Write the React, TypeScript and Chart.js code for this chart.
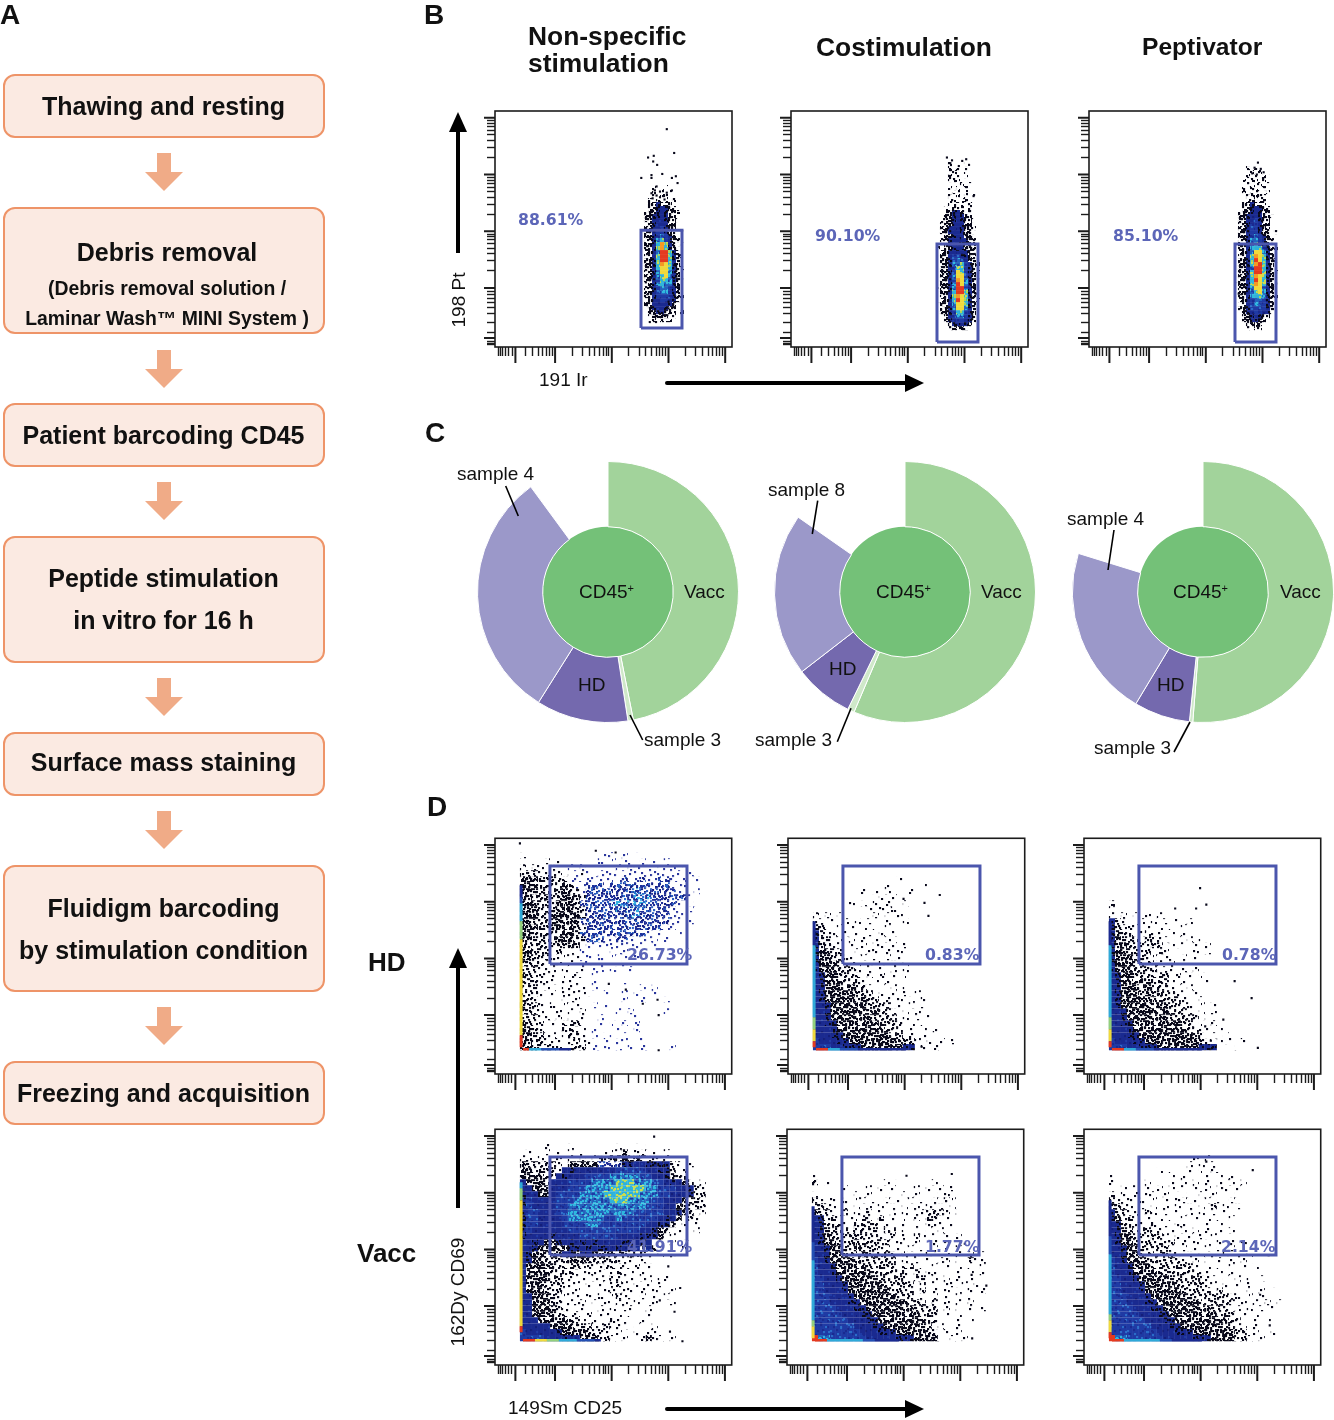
import React, { useEffect, useRef } from "react";
import { Chart, registerables } from "chart.js";
Chart.register(...registerables);

// ---------- workflow text ----------
const flowSteps = [
  { lines: [{ t: "Thawing and resting", y: 106, x: 163.5 }], top: 74, bottom: 138 },
  { lines: [{ t: "Debris removal", y: 252, x: 167 }, { t: "(Debris removal solution /", y: 289, x: 167, small: true }, { t: "Laminar Wash™ MINI System )", y: 319, x: 167, small: true }], top: 207, bottom: 334 },
  { lines: [{ t: "Patient barcoding CD45", y: 435, x: 163.5 }], top: 403, bottom: 467 },
  { lines: [{ t: "Peptide stimulation", y: 578, x: 163.5 }, { t: "in vitro for 16 h", y: 620, x: 163.5 }], top: 536, bottom: 663 },
  { lines: [{ t: "Surface mass staining", y: 762, x: 163.5 }], top: 732, bottom: 796 },
  { lines: [{ t: "Fluidigm barcoding", y: 908, x: 163.5 }, { t: "by stimulation condition", y: 950, x: 163.5 }], top: 865, bottom: 992 },
  { lines: [{ t: "Freezing and acquisition", y: 1093, x: 163.5 }], top: 1061, bottom: 1125 },
];
const flowArrowTops = [153, 350, 482, 678, 811, 1007];

// ---------- axis ticks (decades of the cytometry biaxial scale) ----------
const axisMajorX = [-0.7, 0, 1, 2, 3];
const axisMinorX = [-1.0, -0.97, -0.93, -0.88, -0.82, -0.76, -0.52, -0.4, -0.3, -0.22, -0.15, -0.1, -0.05, 0.3, 0.48, 0.6, 0.7, 0.78, 0.85, 0.9, 0.95, 1.3, 1.48, 1.6, 1.7, 1.78, 1.85, 1.9, 1.95, 2.3, 2.48, 2.6, 2.7, 2.78, 2.85, 2.9, 2.95];
const axisMajorY = [-0.88, 0, 1, 2, 3];
const axisMinorY = [-1.0, -0.97, -0.94, -0.78, -0.6, -0.45, -0.35, -0.25, -0.18, -0.12, -0.06, 0.3, 0.48, 0.6, 0.7, 0.78, 0.85, 0.9, 0.95, 1.3, 1.48, 1.6, 1.7, 1.78, 1.85, 1.9, 1.95, 2.3, 2.48, 2.6, 2.7, 2.78, 2.85, 2.9, 2.95];

// ---------- gates ----------
const gateNonspecB = { x: [1.515, 2.238], y: [-0.707, 1.02] };
const gateOtherB = { x: [1.515, 2.238], y: [-0.954, 0.774] };
const gateD = { x: [-0.09, 2.33], y: [0.9, 2.63] };

// ---------- density readings, top row first; "." none, 1-3 black dots, a,b,c blue dots, k navy+black, 4-9 colour scale ----------
const purityNonspec = [
  "", "", "", "", "", "", "", "", "....1.1....", "...2.1.....",
  "...2.2.1...", "...2.22....", "..2.222.2..", "..33k333...", "..33k4k32..", ".233k4k332.", ".33kk4k33..", ".33k44k332.", "..3k44k33..", ".33k45k33..",
  ".33k55k32.2", ".33k565k3..", ".23k675k32.", ".33k7o7k3.2", ".33k7o7k32.", ".33k6997k3.", ".23k7997k32", ".33k7997k3.", ".33k7o87k3.", ".33k7887k32",
  ".23k6886k3.", ".33k6786k3.", ".33k6776k32", "..3k6766k3.", ".33k5665k3.", ".23k5665k3.", ".33k5555k32", "..3k4554k3.", ".33k444k3..", "..3k44k33..",
  "..33kk332.2", "..23333.2..", "...2.322...",
];
const purityCostim = [
  "", "", "", "...2.1.2...", "...2.2.1...", "...222.2...", "...3.2.1...", "...222.....", "....2.2.1..", "...2.2.2...",
  "....22.2...", "...2.2.2.1.", "...22.22.1.", "...2222.2..", "..2.222.2..", "..23kk322..", "..33k4k33..", ".233k4k332.", ".233k4k33..", ".33k44k332.",
  ".23kk4k33..", "..33k4k332.", ".33k44kk32.", "..3k4kk332.", "2.33k4k333.", ".33k4k4k33.", ".33k55kk32.", ".33k565k33.", ".23k6675k32", ".33k5775k3.",
  ".33k5875k32", ".33k6885k3.", ".23k6o86k32", ".33k6986k3.", ".33k6996k3.", ".33k7997k32", ".23k7o87k3.", "233k7987k32", ".33k6887k3.", ".23k6886k3.",
  ".33k5775k3.", "..3k5665k3.", "..3k4554k2.", "...3kk4k3..", "...23332...",
];
const purityPeptiv = [
  "", "", "", ".....1.....", "...2.2.....", "....2.2.1..", "...2.2.2...", "..2.22.2...", "...2.22.1..", "..2.22.2...",
  "..2.222.2..", "...22322...", "...22322...", "..33k332...", "..33k4k32..", ".233k4k33..", ".33k44k332.", ".33k45k33..", ".23k45k33..", ".33k55k32..",
  ".33k55k33.2", ".33k565k3..", ".23k665k32.", ".33k675k3..", ".33k6775k32", ".33k6886k3.", ".23k7o87k3.", ".33k7987k32", ".33k7o97k3.", ".33k6997k3.",
  ".23k7997k32", ".33k7o87k3.", ".33k7987k3.", "233k7o87k32", ".33k6886k3.", ".23k6786k3.", ".33k6776k32", ".33k5665k3.", "..3k5665k3.", ".33k5555k3.",
  "..3k4554k2.", "..33k4k33..", "..33kk33...", "...3333....", "...2.32....",
];

const hdNonspec = [
  "1.............aa.a.a", "....1.1......a.a.aa.a.a.a", "2.11.1..a.a.....a.aaaa.aaa.a", "2221111.1a1a.aaaaaaaaaaaaaa.a", "33322222aaaaaaaaabaabaabbaaa.a", "333222232aabbbabbbbbbbbbbaaa",
  "3332222322abbbbbbcbcbbbbbbaa.a", "33223223332bbbbbbcccccbbbbbba", "3332223332bbbbbccccccbbbbbaa.a", "33322233322bbbbbccbccbbbbaa.a", "33322333332bbbbbbbccbbbbbaaa", "3322233333bbbbbbbbbbbbbbbaa.a",
  "33322333322bbbbbbbbbbbbbaa.", "3322222332bbbbbbbbbbbaaa..a", "33222233322bbbaabbaaaaa.a", "3222222233.aaaaaaaaaa.a", "33222.2.1.aa.a.aaa.a", "3322211111.a.a.a.a.a",
  "3222111.1.aa.a...a", "222111.1..1.aa.aa.a", "322111.1111.a..", "2221111111..a....a", "22211..1111.a.......a.a", "2221.1.1111...a..a.a..a",
  "2211.1.111.1.....a..a...a", "3221.1.1.1..a.a.....", "3211..1.1.1.....a.a.....a", "22211.1.1.1..a.....a", "3221.1.2221..a.a.a.a", "3321..12211.a.a.a..a",
  "332211.1221.a..a.a", "3322111.1211..a.aa..a", "3322221.222.aaa.a.a.aa...a",
];
const hdCostim = [
  "", "", "", "", "..............1", "............1.....1", "........1.1.1...1", "...........1.1..", "......1.1.1.1..1", ".........1.1.1",
  "2.1.1.....1.1.1", "21.1.1.1.1..1..1", "221.1.1.1.1.1", "k211.1.1.1.1.1", "k2211.1.1.1.1", "k3211.1.1.11.1.1", "k33221.1.11.1.1", "k332211.1.1.1.1",
  "k3332111.1.1.1.1", "k3332221.1.1.1.1", "4k332222.1.1.1.1", "4k3332221.1.1.1", "4k33323221.1.1.1", "4k33333222.1.1.1.1", "4k333332322.1.1.1.1", "44k3333332222.1.1.1",
  "44k33333323221.1.1", "44k33333332222.1.1.1", "44kk33333332222.1.1", "444k33333333222.1.1.1", "444kk3333333322.1.1", "5444kk333333332221.1.1.1", "55544kkk3333333kk.1.1",
];
const hdPeptiv = [
  "", "", "", "", "", "", "", "", "2", "1",
  "1.1.1.1.1", "k21..1.1.1.1.1", "k2211.1.1.1.1", "k322.1211.1.1", "k3222.2211.1.1.1", "k33222122.1.1.1.1", "k332222.21.1..1.1", "k3332221.11.1.1",
  "k33322221.1.1", "k3332222111.1.1", "4k33222222.1.1.1", "4k332332221.1.1.1", "4k3332322211.1", "4k33323232211.1", "4k333323222211.1", "4k333332332211.1.1",
  "44k33333232221.1.1", "44k333333322222.1", "44kk3233333322.1.1", "444k3333333332211.1", "444kk33333333322.1.1", "5444kk33333333321.1.1.1", "55544kkk3333333kkk.1.1",
];
const vaccNonspec = [
  "....1...1.......1..1.1", ".1..1.1.1.1...1113.11.1.1", "11.1..1.1.1.1223332321211", "3222221.33333bbbbkk44kkkk21.1", "33222214k44444445555544kk2.1", "3333224k4445555666665544k322..1",
  "4333244455556666777666554k432.1", "4433344455566667777776655544k21", "k443345555666677777766655444k22", "k544445556666667776666554443221", "k544445566666666666665554433222", "k5544455666666666665555544k32.1",
  "k55444456666665565555554k43.21", "k5544445555665555555544kk3.1.1", "k544444455555555555544k32.1..1", "k4444k44445555554444kkk3.1", "44k433k4k4k4k4444kk4k4.1.1.1", "44k33333kk4k4kk4k4k43431...1",
  "4k332334k3k43333222221.1.1", "4k33222233332222211.1", "43333322222111221111.1", "4333322221111111211.1.1", "43333221111.1112111.11.11", "4333222111.1.1.121.1.1.1",
  "4333222111.1.112.11.1.1..1", "4433322111.1.1.1211.1.1.1", "44333221111.1.1.11.1..1..1", "443333211.1..1.1.11..1", "4433332211.1.11.1.1..1", "44433333221.1.1211..1.1",
  "444443333222112111.1..1", "544444k33332221.1..1.11", "5555444kk4333221.1.11311.1",
];
const vaccCostim = [
  "", "", "", "", "", "1.............1", "2.1.........1.......1", ".....1...1.1.1...1.1.1.1", "1......1.1.1.1.1.1.1.11",
  "21.1.1.11.1.1.1.1.1.1.21.", "2211.1.1.1.1.1.1.1.111.1", "3221.2.112.1.1.1.112221.1", "4k221.1121.2.1.1.1.22.1", "4k222112222.1.11.1.111.1", "4k322212222.22.1.1.1.1", "4k3222222221.2.1.21.1.1.1",
  "4k33222322222.11.1.11.1", "44k3322322211.1.1.1.1.1.1", "44k33322322222.2.1.11.1.1.1.1", "54k33333222222.1.1.1.11.1.211", "544k3333322222.22.1.1.1.1.1.1", "544k333333222222.2.11.1.1.1.1", "5544k33333322222.22.1.1.1.1.", "55444k33333322222.2.1.11.1.1",
  "55444k33333332222.2.1.1.1.1.1", "555444k3333333222.1.1.1.1.1", "555444kk33333333222.2.1.1.1", "5555444kk333333332222.1.1.1.1", "55555444kk33333333222.1.1", "555555444kk3333333322.1.1.1", "5555555444kk33333322.1..1", "55555555444kkk3333322.1.1", "96655555544444kkk33331.1.1",
];
const vaccPeptiv = [
  "", "", "..............1.1", ".............1.1.1", "........1.1..1.1.11", "1.........1.1.1.1.1.1.1", "1.....1...1.1.1.1.111.1", "..1.1.1.1.1.1.1.1.11.1.", "2.1.1.11.1.1.1.1.1.1.1",
  "2111.1.1.1.11.1.1.1.1", "3211.1.1.1.1.1.1.2.1.1", "k2211.21.1.1.1.1.1.1", "k3221.1.1.1.1.1.1.1.1", "4k221112.1.11.1.1.1", "4k3212211.1.1.1.1.1.1", "4k33221221.1.1.1.1",
  "4k332222212.1.1.1.1.1.1", "44k33222221.1.1.1.1.1", "44k332222211.1.1.1.1.1.1", "54k3332222221.1.1.1.1.1", "544k33322222221.1.1.1.1.1", "544k3333222222211.1.1.1", "5544k3333322222211.1.1.1.1", "55444k333332222211.1.1.1",
  "55444k33333322222.21.1.1.1.1", "555444k333333222222211.1.1", "555444kk3333333222222.1.1.1.1", "5555444kk33333333222.1.1.1.1", "55555444kk33333333222.1.1", "555555444kk333333333221.1.1", "5555555444kk33333332211.1", "55555555444kkk333333322.1..1", "96655555544444kkk3333221.1",
];

// pile-up of events on the axes: left edge by row, bottom edge by column
const hdNonspecLeft = ".....4456667778888888888888888999";
const hdNonspecBottom = "966555444";
const hdCostimLeft = "...........4444666666666666778899";
const hdCostimBottom = "9966555444444444";
const hdPeptivLeft = "...........4444666666666666778899";
const hdPeptivBottom = "9966555444444444";
const vaccNonspecLeft = "......67788888888888888888888899";
const vaccNonspecBottom = "99887766655544";
const vaccCostimLeft = "..........44444455566666666667889";
const vaccCostimBottom = "996666665544444";
const vaccPeptivLeft = ".........444444555666666666678899";
const vaccPeptivBottom = "9966666655444444";

// ---------- isolated events ----------
const purityNonspecSparse = [[1.97, 2.8], [2.1, 2.38], [1.64, 2.3], [1.74, 2.33], [1.73, 2.23], [1.8, 2.17], [1.52, 1.94], [1.7, 1.99], [1.7, 1.94], [1.89, 2.01], [2.13, 1.97], [2.06, 1.94], [2.16, 1.85], [1.79, 1.79], [1.76, 1.72], [1.7, 1.67], [1.85, 1.7], [1.97, 1.68], [2.06, 1.72], [1.79, 1.63], [1.85, 1.6], [1.72, 1.58], [1.93, 1.56], [1.67, -0.6], [1.78, -0.6], [2.0, -0.24], [2.0, -0.36], [2.08, -0.21], [1.98, -0.48], [1.62, -0.3], [1.6, 0.1], [2.1, 0.4], [2.14, 0.2]];
const purityCostimSparse = [[1.69, 2.3], [1.78, 2.25], [1.96, 2.24], [2.03, 2.27], [1.75, 2.2], [1.9, 2.15], [2.08, 2.17], [2.16, 1.62], [1.52, 0.0], [2.18, 0.6], [2.2, -0.1]];
const purityPeptivSparse = [[1.92, 2.21], [1.86, 2.12], [1.97, 2.1], [1.82, 2.02], [1.9, 2.0], [2.02, 2.04], [1.58, -0.1], [1.6, 0.28], [2.18, 0.5]];
const hdNonspecSparse = [[-0.62, 3.03], [0.72, 2.9], [1.07, 2.87], [1.83, -0.62], [1.83, 0.0], [1.81, 0.27], [1.55, 0.2], [0.95, 0.55], [1.25, 0.45]];
const hdCostimSparse = [[1.3, -0.56], [1.35, 1.98], [0.98, 2.05], [1.62, 2.12], [1.42, 1.75]];
const hdPeptivSparse = [[2.01, -0.58], [0.99, 2.24], [0.55, 1.88], [0.92, 1.88], [1.1, 1.95], [1.6, 0.6], [1.9, 0.3], [1.4, -0.08], [1.08, -0.2], [1.18, -0.45]];
const vaccNonspecSparse = [[1.75, 2.99], [2.25, -0.62], [2.21, 0.32], [2.11, -0.1], [2.03, -0.45], [2.0, 0.7], [1.85, 0.1]];
const vaccCostimSparse = [[2.46, 0.36], [2.21, -0.57], [1.05, 2.3], [1.85, 2.33], [2.08, 1.1], [2.2, 0.55]];
const vaccPeptivSparse = [[2.22, -0.34], [2.05, 0.2], [1.1, 2.55], [1.92, 2.4], [2.2, 0.9]];

// ---------- sunburst shares, in degrees clockwise from the top ----------
const sunburstLabels = ["Vacc", "sample 3", "HD", "top HD sample", "other"];
const sunburstNonspec = [168.8, 2.4, 41, 111.5, 36.3];
const sunburstCostim = [203, 3, 26.3, 72.7, 55];
const sunburstPeptiv = [184.5, 1.5, 25, 76.2, 72.8];

// ---------- styling ----------
const FONT = '"Liberation Sans", Arial, sans-serif';
const SOLID: Record<string, string> = { "4": "#1a2a90", "5": "#2450b4", "6": "#2fa9d8", "7": "#93d07c", "8": "#efd93c", o: "#f59a23", "9": "#e43a20" };
const DOTS = [[5,7],[29,3],[17,21],[41,14],[9,35],[33,28],[22,44],[44,39],[13,12],[37,6],[2,24],[25,33],[47,25],[19,2],[31,41],[7,46],[39,20],[15,29],[27,12],[3,16],[43,32],[21,37],[35,45],[11,41],[45,3],[24,26],[10,20],[36,35],[18,9],[30,19],[6,30],[42,44],[14,47],[26,5],[38,11],[1,40],[23,16],[46,17],[12,26],[34,1],[20,31],[40,27],[8,13],[28,38],[16,39],[44,9],[4,2],[32,24],[24,46],[37,40],[11,5],[19,14],[2,34],[41,37],[29,29],[14,19],[34,15],[7,23],[47,46],[21,25],[26,43],[39,33],[17,35],[31,9],[9,44],[43,21],[3,10],[36,28],[23,3],[13,33],[45,13],[28,22]];

function dotPattern(count: number, colors: string[], shifts: number[][], base?: string): CanvasPattern {
  const tile = document.createElement("canvas");
  tile.width = 48;
  tile.height = 48;
  const c = tile.getContext("2d")!;
  if (base) {
    c.fillStyle = base;
    c.fillRect(0, 0, 48, 48);
  }
  shifts.forEach((s, k) => {
    DOTS.slice(0, count).forEach(([x, y], i) => {
      c.fillStyle = colors[(i + k) % colors.length];
      c.fillRect((x + s[0]) % 48, (y + s[1]) % 48, 2.1, 2.1);
    });
  });
  return c.createPattern(tile, "repeat")!;
}
const S2 = [[0, 0], [17, 11]];
const S3 = [[0, 0], [17, 11], [31, 26]];
const S5 = [[0, 0], [17, 11], [31, 26], [8, 37], [40, 19]];
const S7 = [[0, 0], [17, 11], [31, 26], [8, 37], [40, 19], [24, 7], [12, 30]];
let fills: Record<string, string | CanvasPattern> | null = null;
function levelFills() {
  if (!fills) {
    const black = "#08081a";
    fills = {
      ...SOLID,
      "1": dotPattern(72, [black], [[0, 0]]),
      "2": dotPattern(72, [black], S3),
      "3": dotPattern(72, [black], S7),
      a: dotPattern(72, ["#2a369c"], [[0, 0]]),
      b: dotPattern(72, ["#1f2f98", "#2b5fc0", "#1f2f98", "#131f80"], S5),
      c: dotPattern(72, ["#1f2f98", "#2b6fd0", "#1f2f98", "#32b0e0"], S7),
      k: dotPattern(72, [black], S3, "#1a2a90"),
      "4": dotPattern(72, ["#141f7a", "#1f3aa4"], [[0, 0]], "#1a2a90"),
      "5": dotPattern(72, ["#1a2a90", "#2b6cc8"], S2, "#1f3aa4"),
      "6": dotPattern(72, ["#2fb8df", "#1f3aa4", "#2fb8df"], S5, "#2462bc"),
      "7": dotPattern(72, ["#a8d65a", "#2fb8df", "#c9dc50"], S5, "#2fb0da"),
    };
  }
  return fills;
}

const unitPx = 56.7;
const xMin = -1.06, xMax = 3.12, yMin = -1.04, yMax = 3.12;

function frameAndMajors(tickX: number, tickY: number) {
  return {
    id: "frameAndMajors",
    afterDraw(chart: any) {
      const { ctx, chartArea: a, scales } = chart;
      ctx.save();
      ctx.strokeStyle = "#1c1c1c";
      ctx.lineWidth = 1.6;
      ctx.strokeRect(a.left, a.top, a.right - a.left, a.bottom - a.top);
      ctx.lineWidth = 2;
      ctx.beginPath();
      axisMajorX.forEach((v) => {
        const p = scales.x.getPixelForValue(v);
        ctx.moveTo(p, a.bottom);
        ctx.lineTo(p, a.bottom + tickX);
      });
      axisMajorY.forEach((v) => {
        const p = scales.y.getPixelForValue(v);
        ctx.moveTo(a.left, p);
        ctx.lineTo(a.left - tickY, p);
      });
      ctx.stroke();
      ctx.restore();
    },
  };
}

type PlotSpec = {
  rows: string[];
  cellUnits: number;
  x0: number;
  yTop: number;
  gate: { x: number[]; y: number[] };
  sparse: number[][];
  left?: string;
  bottom?: string;
};

function plotConfig(spec: PlotSpec) {
  const { rows, cellUnits: d, x0, yTop, gate, sparse, left, bottom } = spec;
  const lv = levelFills();
  const byLevel: Record<string, { x: number; y: number }[]> = {};
  rows.forEach((row, j) => {
    [...row].forEach((ch, i) => {
      if (ch === "." || ch === " ") return;
      (byLevel[ch] = byLevel[ch] || []).push({ x: x0 + (i + 0.5) * d, y: yTop - (j + 0.5) * d });
    });
  });
  const radius = (d * unitPx) / Math.SQRT2 + 0.04;
  const datasets: any[] = [];
  datasets.push({
    label: "gate",
    data: [
      { x: gate.x[0], y: gate.y[0] }, { x: gate.x[1], y: gate.y[0] }, { x: gate.x[1], y: gate.y[1] }, { x: gate.x[0], y: gate.y[1] }, { x: gate.x[0], y: gate.y[0] },
    ],
    showLine: true,
    borderColor: "#4b56ad",
    borderWidth: 3,
    pointRadius: 0,
    borderJoinStyle: "miter",
  });
  datasets.push({
    label: "isolated events",
    data: sparse.map(([x, y]) => ({ x, y })),
    pointStyle: "rect",
    pointRadius: 1.5,
    pointBorderWidth: 0,
    pointBackgroundColor: "#08081a",
  });
  const strip = (str: string | undefined, vertical: boolean) => {
    if (!str) return;
    const pts: { x: number; y: number }[] = [];
    const cols: string[] = [];
    [...str].forEach((ch, k) => {
      if (ch === ".") return;
      pts.push(vertical ? { x: x0 + 0.02, y: yTop - (k + 0.5) * d } : { x: x0 + (k + 0.5) * d, y: yTop - (rows.length - 0.15) * d });
      cols.push(SOLID[ch]);
    });
    datasets.push({
      label: vertical ? "left pile-up" : "bottom pile-up",
      data: pts,
      showLine: true,
      pointRadius: 0,
      borderWidth: vertical ? 3 : 2.5,
      borderColor: cols[0],
      borderCapStyle: "butt",
      segment: { borderColor: (c: any) => cols[c.p0DataIndex] },
    });
  };
  strip(left, true);
  strip(bottom, false);
  ["9", "o", "8", "7", "6", "5", "4", "k", "c", "b", "a", "3", "2", "1"].forEach((k) => {
    if (byLevel[k])
      datasets.push({
        label: "density " + k,
        data: byLevel[k],
        pointStyle: "rect",
        pointRadius: radius,
        pointBorderWidth: 0,
        pointBackgroundColor: lv[k],
      });
  });
  const tickBase = (len: number) => ({ display: true, drawOnChartArea: false, drawTicks: true, tickLength: len, tickColor: "#1c1c1c", tickWidth: 1.4 });
  return {
    type: "scatter",
    data: { datasets },
    plugins: [frameAndMajors(16, 11)],
    options: {
      animation: false,
      responsive: false,
      devicePixelRatio: 1,
      events: [],
      layout: { padding: { top: 4, right: 4 } },
      plugins: { legend: { display: false }, tooltip: { enabled: false } },
      scales: {
        x: {
          type: "linear", min: xMin, max: xMax,
          ticks: { display: false },
          grid: tickBase(9),
          border: { display: false },
          afterBuildTicks: (s: any) => { s.ticks = axisMinorX.map((value) => ({ value })); },
          afterFit: (s: any) => { s.height = 26; },
        },
        y: {
          type: "linear", min: yMin, max: yMax,
          ticks: { display: false },
          grid: tickBase(8),
          border: { display: false },
          afterBuildTicks: (s: any) => { s.ticks = axisMinorY.map((value) => ({ value })); },
          afterFit: (s: any) => { s.width = 26; },
        },
      },
    },
  };
}

function sunburstConfig(values: number[]) {
  const clear = "rgba(0,0,0,0)";
  return {
    type: "doughnut",
    data: {
      labels: sunburstLabels,
      datasets: [
        {
          data: values,
          backgroundColor: ["#a2d39b", "#cfe8c9", "#7469ae", "#9b98c9", clear],
          borderColor: ["#ffffff", "#ffffff", "#ffffff", "#ffffff", clear],
          borderWidth: 1,
          hoverOffset: 0,
        },
        { data: [100], backgroundColor: ["#74c178"], borderColor: ["#74c178"], borderWidth: 0, hoverOffset: 0 },
      ],
    },
    options: {
      animation: false,
      responsive: false,
      devicePixelRatio: 1,
      events: [],
      cutout: 0,
      layout: { padding: 0 },
      plugins: { legend: { display: false }, tooltip: { enabled: false } },
    },
  };
}

function ChartCanvas({ left, top, width, height, make, blur }: any) {
  const ref = useRef<HTMLCanvasElement>(null);
  useEffect(() => {
    const chart = new Chart(ref.current as any, make());
    return () => chart.destroy();
  }, []);
  return <canvas ref={ref} width={width} height={height} style={{ position: "absolute", left, top, width, height, display: "block", filter: blur ? "blur(0.5px)" : undefined }} />;
}

function T({ x, y, children, size = 19, bold = false, anchor = "left", color = "#111", rotate = 0, family = FONT }: any) {
  const tx = anchor === "middle" ? "-50%" : "0";
  return (
    <div style={{ position: "absolute", left: x, top: y, fontFamily: family, fontSize: size, fontWeight: bold ? 700 : 400, color, lineHeight: 1, whiteSpace: "nowrap", zIndex: 5, transform: `translate(${tx},-50%)${rotate ? ` rotate(${rotate}deg)` : ""}` }}>
      {children}
    </div>
  );
}

function Pct({ x, y, children }: any) {
  return <T x={x} y={y} size={15.7} bold color="#5c66b8" family='"DejaVu Sans", sans-serif'>{children}</T>;
}

const W = 237, H = 236;
function Plot({ left, top, spec }: { left: number; top: number; spec: PlotSpec }) {
  return <ChartCanvas left={left - 26} top={top - 4} width={W + 30} height={H + 30} blur make={() => plotConfig(spec)} />;
}

const bCell = 4 / unitPx, bX0 = -1.06 + 145 / unitPx, bTop = 3.12 - 39 / unitPx;
const dCell = 6 / unitPx, dX0 = -1.06 + 25 / unitPx, dTop = 3.12 - 14 / unitPx;
const bSpec = (rows: string[], sparse: number[][], gate: any): PlotSpec => ({ rows, sparse, gate, cellUnits: bCell, x0: bX0, yTop: bTop });
const dSpec = (rows: string[], sparse: number[][], left: string, bottom: string): PlotSpec => ({ rows, sparse, left, bottom, gate: gateD, cellUnits: dCell, x0: dX0, yTop: dTop });

function Sunburst({ cx, cy, values }: { cx: number; cy: number; values: number[] }) {
  return <ChartCanvas left={cx - 131} top={cy - 131} width={262} height={262} make={() => sunburstConfig(values)} />;
}

function CD45({ x, y }: { x: number; y: number }) {
  return <T x={x} y={y}>CD45<sup style={{ fontSize: 11, lineHeight: 0, verticalAlign: "6px" }}>+</sup></T>;
}

export default function App() {
  useEffect(() => { document.body.style.margin = "0"; }, []);
  return (
    <div style={{ position: "absolute", left: 0, top: 0, width: 1334, height: 1420, background: "#fff", overflow: "hidden" }}>
      {/* panel A */}
      {flowSteps.map((s, i) => (
        <div key={i} style={{ position: "absolute", left: 3, top: s.top, width: 322, height: s.bottom - s.top, boxSizing: "border-box", background: "#fbeae2", border: "2.5px solid #ee9468", borderRadius: 12 }} />
      ))}
      {flowSteps.map((s) => s.lines.map((l: any) => (
        <T key={l.t} x={l.x} y={l.y} size={l.small ? 19.4 : 25} bold anchor="middle">{l.t}</T>
      )))}

      <svg width={1334} height={1420} style={{ position: "absolute", left: 0, top: 0, zIndex: 4 }}>
        {flowArrowTops.map((t) => (
          <polygon key={t} fill="#f0ab87" points={`157,${t} 171,${t} 171,${t + 19} 183,${t + 19} 164,${t + 38} 145,${t + 19} 157,${t + 19}`} />
        ))}
        {/* direction arrows */}
        <g fill="#000" stroke="none">
          <rect x={456} y={128} width={4} height={125} />
          <polygon points="458,112 449,132 467,132" />
          <rect x={665} y={381} width={244} height={4} rx={2} />
          <polygon points="924,383 905,374 905,392" />
          <rect x={456} y={964} width={4} height={244} />
          <polygon points="458,948 449,968 467,968" />
          <rect x={665} y={1407} width={244} height={4} rx={2} />
          <polygon points="924,1409 905,1400 905,1418" />
        </g>
        {/* sunburst leader lines */}
        <g stroke="#000" strokeWidth={1.6} fill="none">
          <line x1={505.7} y1={486} x2={518.3} y2={516} />
          <line x1={630} y1={715} x2={642.7} y2={740} />
          <line x1={817.7} y1={500.7} x2={812.3} y2={534} />
          <line x1={851} y1={708.3} x2={837.3} y2={741.7} />
          <line x1={1114} y1={530} x2={1108} y2={570} />
          <line x1={1190} y1={722} x2={1174} y2={752} />
        </g>
      </svg>

      <T x={0} y={15} size={28} bold>A</T>
      <T x={424} y={15} size={28} bold>B</T>
      <T x={425} y={433} size={28} bold>C</T>
      <T x={427} y={807} size={28} bold>D</T>

      {/* panel B */}
      <T x={528} y={36} size={26.4} bold>Non-specific</T>
      <T x={528} y={63} size={26.4} bold>stimulation</T>
      <T x={816} y={47} size={26.4} bold>Costimulation</T>
      <T x={1142} y={47} size={24.6} bold>Peptivator</T>
      <Plot left={495} top={111} spec={bSpec(purityNonspec, purityNonspecSparse, gateNonspecB)} />
      <Plot left={791} top={111} spec={bSpec(purityCostim, purityCostimSparse, gateOtherB)} />
      <Plot left={1089} top={111} spec={bSpec(purityPeptiv, purityPeptivSparse, gateOtherB)} />
      <Pct x={518} y={220}>88.61%</Pct>
      <Pct x={815} y={236}>90.10%</Pct>
      <Pct x={1113} y={236}>85.10%</Pct>
      <T x={458} y={300} anchor="middle" rotate={-90}>198 Pt</T>
      <T x={539} y={379}>191 Ir</T>

      {/* panel C */}
      <Sunburst cx={608} cy={592} values={sunburstNonspec} />
      <Sunburst cx={905} cy={592} values={sunburstCostim} />
      <Sunburst cx={1203} cy={592} values={sunburstPeptiv} />
      <CD45 x={579} y={591} /><CD45 x={876} y={591} /><CD45 x={1173} y={591} />
      <T x={684} y={591}>Vacc</T><T x={981} y={591}>Vacc</T><T x={1280} y={591}>Vacc</T>
      <T x={578} y={684}>HD</T><T x={829} y={668}>HD</T><T x={1157} y={684}>HD</T>
      <T x={457} y={473}>sample 4</T><T x={644} y={739}>sample 3</T>
      <T x={768} y={489}>sample 8</T><T x={755} y={739}>sample 3</T>
      <T x={1067} y={518}>sample 4</T><T x={1094} y={747}>sample 3</T>

      {/* panel D */}
      <Plot left={495} top={838} spec={dSpec(hdNonspec, hdNonspecSparse, hdNonspecLeft, hdNonspecBottom)} />
      <Plot left={788} top={838} spec={dSpec(hdCostim, hdCostimSparse, hdCostimLeft, hdCostimBottom)} />
      <Plot left={1084} top={838} spec={dSpec(hdPeptiv, hdPeptivSparse, hdPeptivLeft, hdPeptivBottom)} />
      <Plot left={495} top={1129} spec={dSpec(vaccNonspec, vaccNonspecSparse, vaccNonspecLeft, vaccNonspecBottom)} />
      <Plot left={787} top={1129} spec={dSpec(vaccCostim, vaccCostimSparse, vaccCostimLeft, vaccCostimBottom)} />
      <Plot left={1084} top={1129} spec={dSpec(vaccPeptiv, vaccPeptivSparse, vaccPeptivLeft, vaccPeptivBottom)} />
      <Pct x={627} y={955}>26.73%</Pct><Pct x={925} y={955}>0.83%</Pct><Pct x={1222} y={955}>0.78%</Pct>
      <Pct x={627} y={1247}>41.91%</Pct><Pct x={925} y={1247}>1.77%</Pct><Pct x={1221} y={1247}>2.14%</Pct>
      <T x={368} y={962} size={26} bold>HD</T>
      <T x={357} y={1253} size={26} bold>Vacc</T>
      <T x={457} y={1292} anchor="middle" rotate={-90}>162Dy CD69</T>
      <T x={508} y={1407}>149Sm CD25</T>
    </div>
  );
}
